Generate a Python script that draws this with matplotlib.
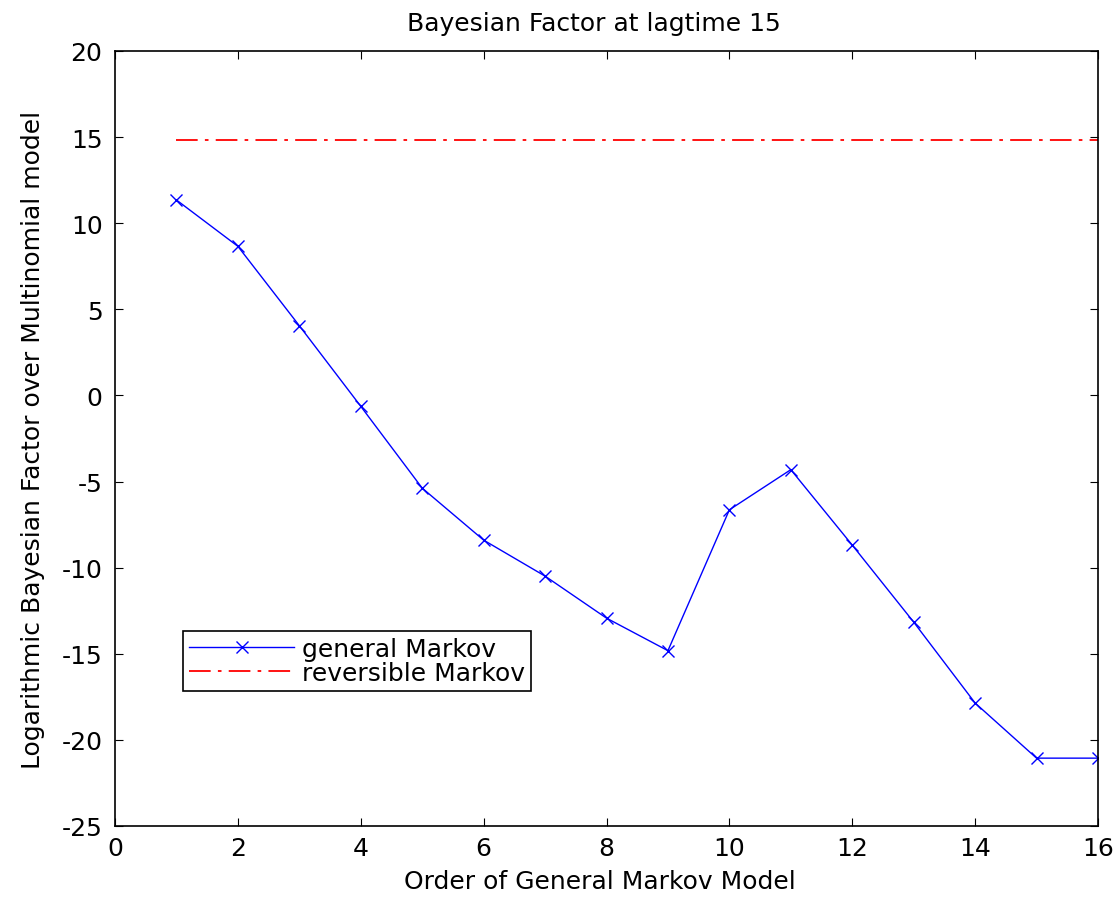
import matplotlib
matplotlib.use("Agg")
import matplotlib.pyplot as plt

order = [1, 2, 3, 4, 5, 6, 7, 8, 9, 10, 11, 12, 13, 14, 15, 16]
general_markov = [11.35, 8.66, 4.05, -0.63, -5.38, -8.4, -10.49, -12.93, -14.82,
                  -6.64, -4.31, -8.69, -13.16, -17.86, -21.06, -21.06]
reversible_markov = 14.85

xticks = list(range(0, 17, 2))
yticks = list(range(-25, 21, 5))

plt.rcParams['font.family'] = ['DejaVu Sans']
plt.rcParams['axes.unicode_minus'] = False
FS = 18
fig = plt.figure(figsize=(11.15, 9.04), dpi=100)
ax = fig.add_axes([115/1115, 1 - 827/904, (1098-115)/1115, (827-52)/904])

ax.plot(order, general_markov, color='#0000ff', marker='x', markersize=9,
        markeredgewidth=1.0, linewidth=1.0, label='general Markov')
ax.plot([order[0], order[-1]], [reversible_markov, reversible_markov],
        color='#ff0000', linestyle=(0, (12, 4, 2, 4)), linewidth=1.3,
        label='reversible Markov')

ax.set_xlim(0, 16)
ax.set_ylim(-25, 20)
ax.set_xticks(xticks)
ax.set_yticks(yticks)
ax.tick_params(direction='in', top=True, right=True, length=6, labelsize=FS)
ax.tick_params(axis='y', pad=9)
ax.tick_params(axis='x', pad=7)
for s in ax.spines.values():
    s.set_linewidth(1.2)

ax.set_title('Bayesian Factor at lagtime 15', fontsize=FS, pad=15, x=0.487)
ax.set_xlabel('Order of General Markov Model', fontsize=FS, labelpad=8)
ax.xaxis.set_label_coords(0.493, -0.055)
ax.set_ylabel('Logarithmic Bayesian Factor over Multinomial model', fontsize=FS, labelpad=12)

leg = ax.legend(loc='lower left', bbox_to_anchor=(68/983, 135/775), fontsize=FS,
                fancybox=False, framealpha=1, edgecolor='black', borderaxespad=0,
                handlelength=4.2, handletextpad=0.3, borderpad=0.25, labelspacing=0.0)
leg.get_frame().set_linewidth(1.2)

fig.savefig('out.png', dpi=100)
